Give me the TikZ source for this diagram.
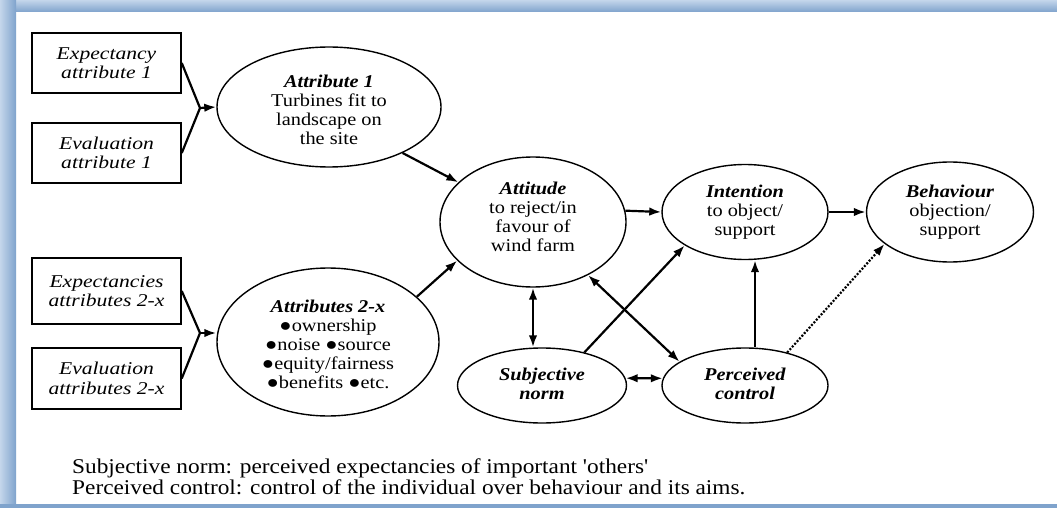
\documentclass[tikz,border=0pt]{standalone}
\usepackage{fontspec}
\setmainfont{Liberation Serif}
\newfontfamily\dfont[FakeStretch=1.13]{Liberation Serif}
\newfontfamily\bfont[FakeStretch=1.2]{Liberation Serif}
\newfontfamily\ffont[Ligatures=TeXOff,FakeStretch=1.11]{Liberation Serif}
\usetikzlibrary{arrows.meta,shapes.geometric}
\definecolor{frameblue}{RGB}{127,163,204}
\definecolor{framelight}{RGB}{196,214,235}
\begin{document}
\begin{tikzpicture}[x=1pt,y=-1pt,
  every node/.style={align=center, inner sep=0pt},
  dtext/.style={font=\dfont\fontsize{18}{19}\selectfont},
  box/.style={draw, line width=1.5pt, minimum width=149pt, font=\bfont\fontsize{18}{19.5}\selectfont\itshape},
  ell/.style={draw, ellipse, line width=1.4pt},
  arr/.style={line width=2.2pt, -{Latex[length=12pt,width=8.5pt]}},
  darr/.style={line width=2.2pt, {Latex[length=12pt,width=8.5pt]}-{Latex[length=12pt,width=8.5pt]}},
  fork/.style={line width=2.2pt},
  foot/.style={font=\ffont\fontsize{21}{21}\selectfont, align=left}
  ]
\useasboundingbox (0,0) rectangle (1057,508);
% frame
\fill[white] (0,0) rectangle (1057,508);
\shade[top color=framelight, bottom color=frameblue] (0,0) rectangle (1057,12);
\shade[left color=framelight, right color=frameblue] (0,0) rectangle (16,508);
\fill[frameblue] (0,504) rectangle (1057,508);

% boxes
\node[box, minimum height=60pt] (e1) at (106.5,63) {Expectancy\\attribute 1};
\node[box, minimum height=60pt] (v1) at (106.5,153) {Evaluation\\attribute 1};
\node[box, minimum height=66pt] (e2) at (106.5,291) {Expectancies\\attributes 2-x};
\node[box, minimum height=61pt] (v2) at (106.5,378.5) {Evaluation\\attributes 2-x};

% ellipses
\node[ell, minimum width=224pt, minimum height=120pt] (a1) at (329,107) {};
\node[ell, minimum width=222pt, minimum height=148pt] (a2) at (328,342) {};
\node[ell, minimum width=186pt, minimum height=130pt] (att) at (533,222) {};
\node[ell, minimum width=166pt, minimum height=95pt] (int) at (745,212) {};
\node[ell, minimum width=167pt, minimum height=100pt] (beh) at (950,212) {};
\node[ell, minimum width=169pt, minimum height=75pt] (sn) at (542,385.5) {};
\node[ell, minimum width=166pt, minimum height=75pt] (pc) at (745,385.5) {};

% ellipse texts
\node[dtext] (a1t) at (329,110) {\textbf{\textit{Attribute 1}}\\Turbines fit to\\landscape on\\the site};
\node[dtext] (a2t) at (328,344) {\textbf{\textit{Attributes 2-x}}\\●ownership\\●noise ●source\\●equity/fairness\\●benefits ●etc.};
\node[dtext] (attt) at (533,217) {\textbf{\textit{Attitude}}\\to reject/in\\favour of\\wind farm};
\node[dtext] (intt) at (745,212) {\textbf{\textit{Intention}}\\to object/\\support};
\node[dtext] (beht) at (950,212) {\textbf{\textit{Behaviour}}\\objection/\\support};
\node[dtext] (snt) at (542,384) {\textbf{\textit{Subjective}}\\\textbf{\textit{norm}}};
\node[dtext] (pct) at (745,384) {\textbf{\textit{Perceived}}\\\textbf{\textit{control}}};

% forks
\coordinate (j1) at (200,108);
\coordinate (j2) at (200,333);
\draw[fork] (e1.east) -- (j1) -- (v1.east);
\draw[arr] (j1) -- (a1.west);
\draw[fork] (e2.east) -- (j2) -- (v2.east);
\draw[arr] (j2) -- (j2 -| a2.west);

% connectors
\draw[arr] (a1.-32) -- (att.152.5);
\draw[arr] (a2.27) -- (att.-153);
\draw[darr] (att.south) -- (att.south |- sn.north);
\draw[arr] (att.7.5) -- (int.west);
\draw[arr] (int.east) -- (beh.west);
\draw[arr] (sn.38.8) -- (int.209);
\draw[darr] (att.-44) -- (pc.160.5);
\draw[darr] (sn.5) -- (pc.175);
\draw[arr] ([xshift=10pt]pc.north) -- ([xshift=10pt]int.south);
\draw[arr, dash pattern=on 2pt off 1.6pt] (pc.38) -- (beh.206);

% footnote
\node[foot, anchor=west] (note) at (72,477) {Subjective norm: perceived expectancies of important 'others'\\Perceived control: control of the individual over behaviour and its aims.};
\end{tikzpicture}
\end{document}
